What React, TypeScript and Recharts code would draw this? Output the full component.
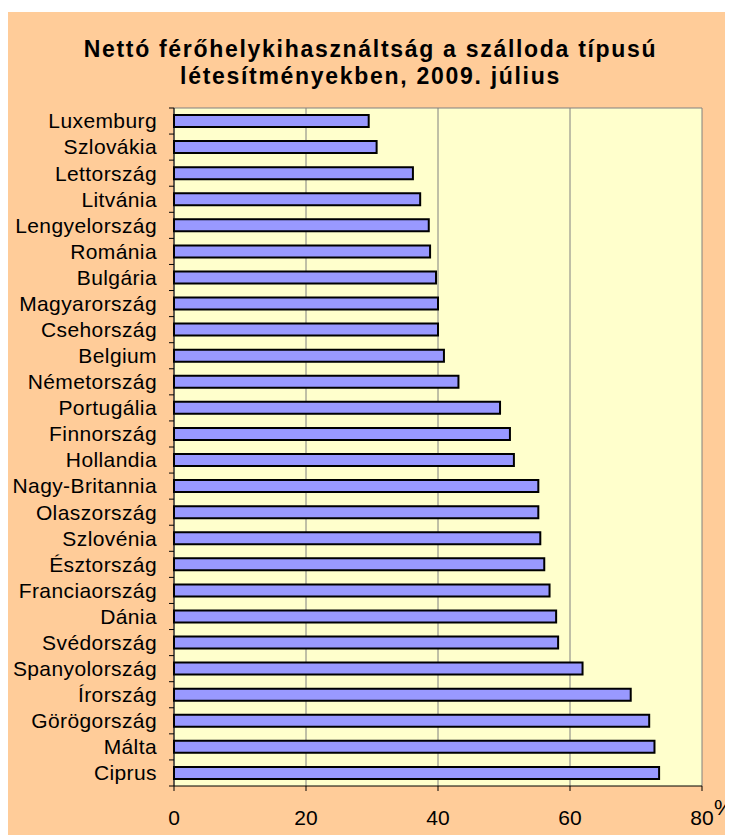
import React from 'react';
import { BarChart, Bar, XAxis, YAxis, CartesianGrid } from 'recharts';

// Countries, top to bottom as in the chart
const countries = [
  'Luxemburg', 'Szlovákia', 'Lettország', 'Litvánia', 'Lengyelország', 'Románia',
  'Bulgária', 'Magyarország', 'Csehország', 'Belgium', 'Németország', 'Portugália',
  'Finnország', 'Hollandia', 'Nagy-Britannia', 'Olaszország', 'Szlovénia', 'Észtország',
  'Franciaország', 'Dánia', 'Svédország', 'Spanyolország', 'Írország', 'Görögország',
  'Málta', 'Ciprus',
];

// Net bed occupancy, %
const occupancy = [
  29.5, 30.7, 36.2, 37.3, 38.6, 38.8,
  39.7, 40.0, 40.0, 40.9, 43.1, 49.4,
  50.9, 51.5, 55.2, 55.2, 55.5, 56.1,
  56.9, 57.9, 58.2, 61.9, 69.2, 72.0,
  72.8, 73.5,
];

const xTicks = [0, 20, 40, 60, 80];

const data = countries.map((name, i) => ({ name, value: occupancy[i] }));

const W = 725;
const H = 823;
const MARGIN = { top: 96, right: 31, bottom: 4, left: 6 };
const X_AXIS_H = 45;
const PLOT_H = H - MARGIN.top - MARGIN.bottom - X_AXIS_H;
const BAND = PLOT_H / countries.length;

const FONT = '"Liberation Sans", Arial, sans-serif';

const CountryTick = (props: any) => {
  const { x, y, payload, index } = props;
  const last = index === countries.length - 1;
  return (
    <g>
      <line x1={x - 5} x2={x} y1={y - BAND / 2} y2={y - BAND / 2} stroke="#000" />
      {last && <line x1={x - 5} x2={x} y1={y + BAND / 2} y2={y + BAND / 2} stroke="#000" />}
      <text
        x={x - 17}
        y={y}
        dy="0.35em"
        textAnchor="end"
        fontSize={21}
        letterSpacing={0.4}
        fontFamily={FONT}
        fill="#000"
      >
        {payload.value}
      </text>
    </g>
  );
};

const PercentLabel = (props: any) => {
  const { viewBox } = props;
  return (
    <text x={viewBox.x + viewBox.width + 12} y={viewBox.y + 29} fontSize={22} fontFamily={FONT} fill="#000">
      %
    </text>
  );
};

const App: React.FC = () => {
  return (
    <div
      style={{
        position: 'relative',
        width: W,
        height: H,
        marginTop: 4,
        background: '#FFCC99',
        fontFamily: FONT,
      }}
    >
      {/* Title */}
      <div
        style={{
          position: 'absolute',
          top: 24,
          left: 0,
          width: W,
          textAlign: 'center',
          fontSize: 23,
          lineHeight: '27px',
          fontWeight: 'bold',
          letterSpacing: 1.7,
          color: '#000',
        }}
      >
        Nettó férőhelykihasználtság a szálloda típusú
        <br />
        létesítményekben, 2009. július
      </div>

      <BarChart width={W} height={H} data={data} layout="vertical" margin={MARGIN}>
        <CartesianGrid
          fill="#FFFFCC"
          stroke="#808080"
          horizontalPoints={[MARGIN.top]}
        />
        <XAxis
          type="number"
          domain={[0, 80]}
          ticks={xTicks}
          height={X_AXIS_H}
          axisLine={{ stroke: '#000' }}
          tickLine={{ stroke: '#000' }}
          tickSize={5}
          tickMargin={19}
          tick={{ fill: '#000', fontSize: 21, fontFamily: FONT }}
          label={<PercentLabel />}
        />
        <YAxis
          type="category"
          dataKey="name"
          width={160}
          interval={0}
          axisLine={{ stroke: '#000' }}
          tickLine={false}
          tickSize={0}
          tickMargin={0}
          tick={<CountryTick />}
        />
        <Bar
          dataKey="value"
          fill="#9999FF"
          stroke="#000"
          strokeWidth={2}
          barSize={12}
          isAnimationActive={false}
        />
      </BarChart>
    </div>
  );
};

export default App;
